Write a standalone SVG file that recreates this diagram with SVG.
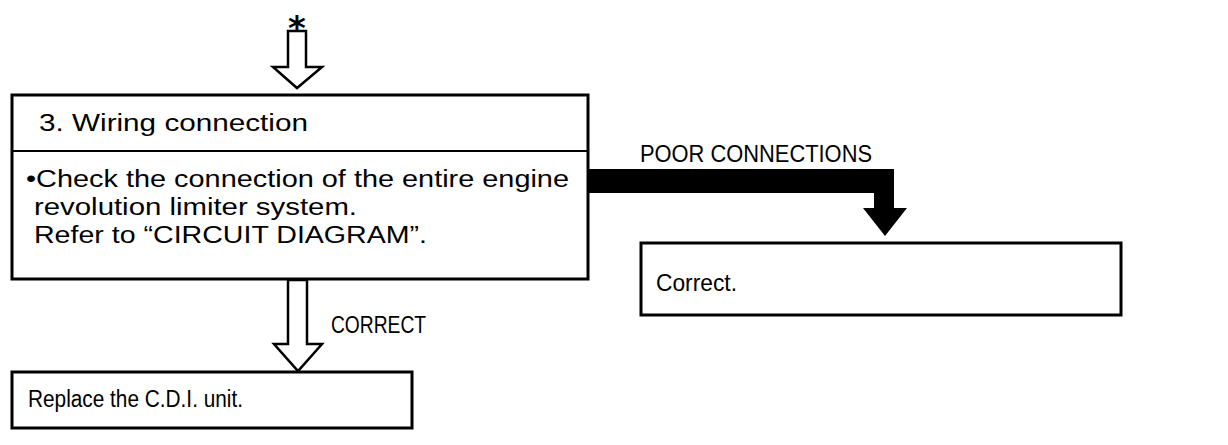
<svg xmlns="http://www.w3.org/2000/svg" width="1228" height="445" viewBox="0 0 1228 445">
<style>
.box{fill:#fff;stroke:#000;stroke-width:3}
.div{stroke:#000;stroke-width:2}
.t{font-family:"Liberation Sans",Arial,sans-serif;font-size:23px;fill:#000}
.m{font-family:"Liberation Sans",Arial,sans-serif;font-size:23px;fill:#000}
.lbl{font-family:"Liberation Sans",Arial,sans-serif;font-size:24px;fill:#000}
.hollow{fill:#fff;stroke:#000;stroke-width:2.5;stroke-linejoin:miter}
.solid{fill:#000;stroke:none}
</style>
<rect width="1228" height="445" fill="#fff"/>
<g id="connectors">
  <text x="297" y="40" text-anchor="middle" style="font-family:'DejaVu Sans',sans-serif;font-size:34px;font-weight:bold">*</text>
  <path class="hollow" d="M288,31 L306,31 L306,67 L322,67 L297,88 L273,67 L288,67 Z"/>
  <path class="hollow" d="M288,280 L307,280 L307,344 L322,344 L298,371 L274,344 L288,344 Z"/>
  <text class="lbl" x="331" y="333" textLength="95" lengthAdjust="spacingAndGlyphs">CORRECT</text>
  <path class="solid" d="M588,169 L894,169 L894,208 L907,208 L885,236 L863,208 L874,208 L874,193 L588,193 Z"/>
  <text class="lbl" x="640" y="162" textLength="232" lengthAdjust="spacingAndGlyphs">POOR CONNECTIONS</text>
</g>
<g id="node-wiring">
  <rect class="box" x="12" y="95" width="576" height="184"/>
  <line class="div" x1="12" y1="151" x2="588" y2="151"/>
  <text class="m" x="39" y="131" textLength="269" lengthAdjust="spacingAndGlyphs">3.  Wiring connection</text>
  <text class="m" x="26" y="187" textLength="543" lengthAdjust="spacingAndGlyphs">•Check the connection of the entire engine</text>
  <text class="m" x="34" y="215" textLength="323" lengthAdjust="spacingAndGlyphs">revolution limiter system.</text>
  <text class="m" x="34" y="243" textLength="393" lengthAdjust="spacingAndGlyphs">Refer to “CIRCUIT DIAGRAM”.</text>
</g>
<g id="node-correct">
  <rect class="box" x="641" y="243" width="480" height="72"/>
  <text class="t" x="656" y="291" textLength="81" lengthAdjust="spacingAndGlyphs">Correct.</text>
</g>
<g id="node-replace">
  <rect class="box" x="12" y="372" width="400" height="56"/>
  <text class="t" x="28" y="407" textLength="215" lengthAdjust="spacingAndGlyphs">Replace the C.D.I. unit.</text>
</g>
</svg>
